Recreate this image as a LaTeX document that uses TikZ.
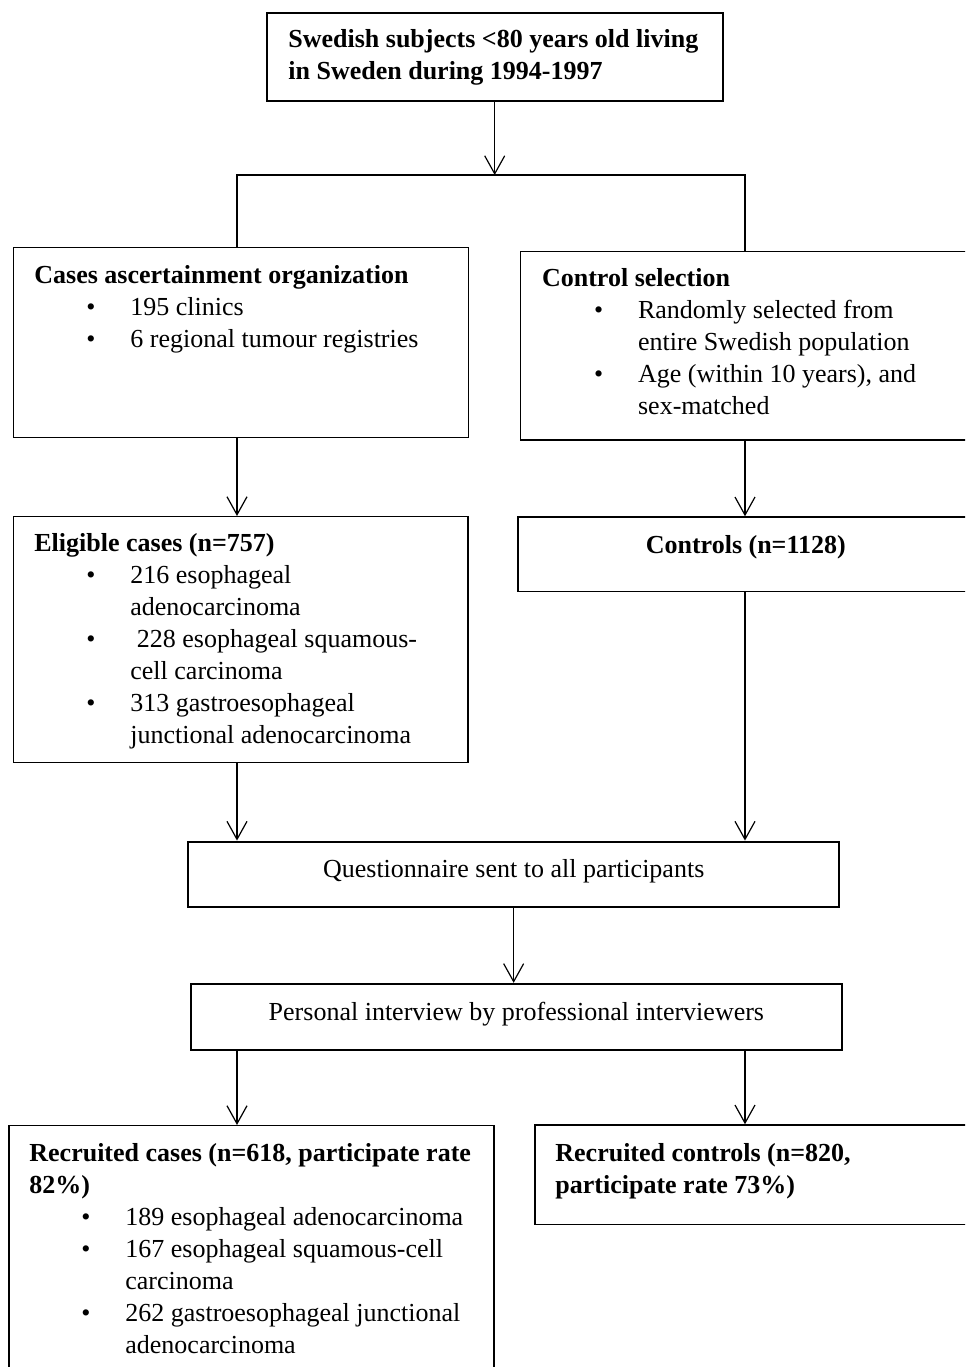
\documentclass[tikz,border=0pt]{standalone}
\usepackage{fontspec}
\setmainfont{Liberation Serif}
\usetikzlibrary{arrows.meta,fit,positioning}
\newcommand{\bul}{\par\hspace*{26pt}\makebox[22pt][l]{\textbullet}}
\newcommand{\ind}{\par\hspace*{48pt}}

\begin{document}
\begin{tikzpicture}[x=0.5pt,y=-0.5pt,
    box/.style={draw, line width=0.75pt, inner sep=0pt},
    thickbox/.style={box, line width=1.15pt},
    txt/.style={anchor=base west, inner sep=0pt, text width=240pt,
        font=\fontsize{13}{16}\selectfont,
        execute at begin node={\spaceskip=0pt\xspaceskip=0pt\relax}},
    mid/.style={anchor=base, inner sep=0pt, font=\fontsize{13}{16}\selectfont},
    arr/.style={-{Straight Barb[length=9pt,width=10pt]}, line width=0.6pt}]
    \useasboundingbox (0,0) rectangle (965,1367);
    \clip (0,0) rectangle (965,1367);
    % Boxes
    \node[thickbox, fit={(266.7,12.7) (722.7,101)}] (subjects) {};
    \node[box, fit={(13.3,247.3) (468.3,437.3)}] (cases) {};
    \node[box, fit={(520.7,251.7) (1000,440)}] (ctrlsel) {};
    \node[box, fit={(13.3,516.7) (468,762.7)}] (eligible) {};
    \node[box, fit={(518,517) (1000,591.7)}] (controls) {};
    \node[thickbox, fit={(188.3,841.7) (839,907.3)}] (quest) {};
    \node[thickbox, fit={(191,984) (841.7,1050)}] (interview) {};
    \node[box, fit={(9,1125.7) (494,1400)}] (reccases) {};
    \node[box, fit={(535,1125) (1000,1224.7)}] (recctrls) {};
    % Texts
    \node[txt] (subjectstxt) at (288,47) {\textbf{Swedish subjects <80 years old living}\par
        \textbf{in Sweden during 1994-1997}};
    \node[txt] (casestxt) at (34,283) {\textbf{Cases ascertainment organization}
        \bul 195 clinics
        \bul 6 regional tumour registries};
    \node[txt] (ctrlseltxt) at (541.7,286.7) {\textbf{Control selection}
        \bul Randomly selected from
        \ind entire Swedish population
        \bul Age (within 10 years), and
        \ind sex-matched};
    \node[txt] (eligibletxt) at (34,551.7) {\textbf{Eligible cases (n=757)}
        \bul 216 esophageal
        \ind adenocarcinoma
        \bul\ 228 esophageal squamous-
        \ind cell carcinoma
        \bul 313 gastroesophageal
        \ind junctional adenocarcinoma};
    \node[mid] (controlstxt) at (745.8,553) {\textbf{Controls (n=1128)}};
    \node[mid] (questtxt) at (513.7,877) {Questionnaire sent to all participants};
    \node[mid] (interviewtxt) at (516.4,1020.7) {Personal interview by professional interviewers};
    \node[txt] (reccasestxt) at (29,1161.7) {\textbf{Recruited cases (n=618, participate rate}\par
        \textbf{82\%)}
        \bul 189 esophageal adenocarcinoma
        \bul 167 esophageal squamous-cell
        \ind carcinoma
        \bul 262 gastroesophageal junctional
        \ind adenocarcinoma};
    \node[txt] (recctrlstxt) at (555,1161.7) {\textbf{Recruited controls (n=820,}\par
        \textbf{participate rate 73\%)}};
    % Split
    \coordinate (colL) at (237,175);
    \coordinate (colR) at (745,175);
    \draw[arr] (subjects.south) -- (subjects.south |- colL);
    \draw[line width=0.6pt] (cases.north -| colL) -- (colL) -- (colR) -- (ctrlsel.north -| colR);
    % Arrows
    \draw[arr] (cases.south -| colL) -- (eligible.north -| colL);
    \draw[arr] (ctrlsel.south -| colR) -- (controls.north -| colR);
    \draw[arr] (eligible.south -| colL) -- (quest.north -| colL);
    \draw[arr] (controls.south -| colR) -- (quest.north -| colR);
    \draw[arr] (quest.south) -- (quest.south |- interview.north);
    \draw[arr] (interview.south -| colL) -- (reccases.north -| colL);
    \draw[arr] (interview.south -| colR) -- (recctrls.north -| colR);
\end{tikzpicture}
\end{document}
